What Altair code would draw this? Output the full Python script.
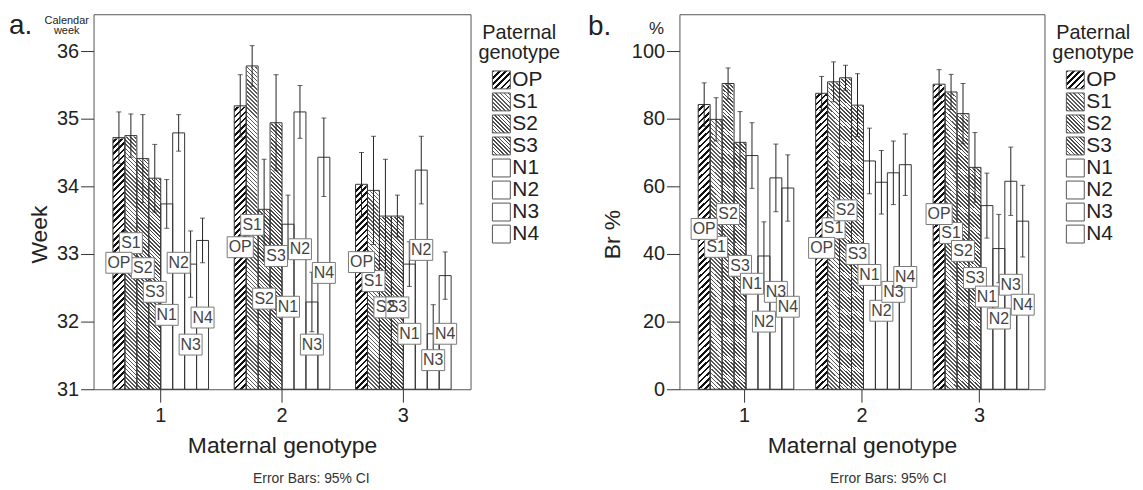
import math
import altair as alt
import pandas as pd

# ---------------- data ----------------
maternal = ["1", "2", "3"]
paternal = ["OP", "S1", "S2", "S3", "N1", "N2", "N3", "N4"]

# panel a: calendar week (rows = maternal genotype 1..3, cols = paternal)
week_mean = [
    [34.72, 34.75, 34.41, 34.12, 33.74, 34.79, 32.85, 33.20],
    [35.19, 35.78, 33.66, 34.94, 33.44, 35.10, 32.29, 34.43],
    [34.03, 33.94, 33.56, 33.56, 32.85, 34.24, 31.82, 32.68],
]
week_ci = [
    [0.38, 0.32, 0.65, 0.50, 0.36, 0.27, 0.49, 0.33],
    [0.46, 0.30, 0.74, 0.71, 0.43, 0.39, 0.44, 0.58],
    [0.47, 0.80, 0.84, 0.31, 0.33, 0.50, 0.43, 0.35],
]
week_label_y = [
    [32.87, 33.16, 32.79, 32.44, 32.10, 32.87, 31.66, 32.06],
    [33.10, 33.43, 32.34, 32.97, 32.22, 33.07, 31.66, 32.72],
    [32.88, 32.60, 32.21, 32.21, 31.82, 33.06, 31.43, 31.82],
]
week_ticks = [31, 32, 33, 34, 35, 36]

# panel b: Br %
br_mean = [
    [84.2, 79.8, 90.4, 73.0, 69.1, 39.4, 62.5, 59.5],
    [87.5, 90.9, 92.1, 84.0, 67.5, 61.2, 64.0, 66.4],
    [90.2, 87.9, 81.5, 65.6, 54.3, 41.6, 61.5, 49.7],
]
br_ci = [
    [6.4, 6.4, 4.6, 9.1, 9.7, 10.1, 10.0, 9.8],
    [5.0, 5.9, 3.7, 9.3, 9.7, 9.4, 9.4, 9.1],
    [4.3, 5.2, 8.9, 10.3, 9.6, 10.1, 10.1, 10.6],
]
br_label_y = [
    [47.4, 42.1, 51.8, 36.5, 31.2, 20.0, 28.8, 24.4],
    [41.8, 47.6, 52.9, 40.0, 33.8, 23.2, 28.8, 33.2],
    [51.8, 46.2, 40.9, 32.9, 27.4, 20.9, 30.9, 25.0],
]
br_ticks = [0, 20, 40, 60, 80, 100]

# ---------------- style ----------------
FONT = "Liberation Sans"
TXT = "#222222"
PAD_IN, PAD_OUT = 0.212, 0.16
H = 377

HATCH_STYLE = {
    "OP": (4.4, 0.42, "#111111", "/"),
    "S1": (2.9, 0.40, "#5a5a5a", "\\"),
    "S2": (2.7, 0.44, "#4a4a4a", "\\"),
    "S3": (2.7, 0.44, "#4a4a4a", "\\"),
}
HATCHED = ["OP", "S1", "S2", "S3"]


def hatch(w, h, period, frac, color, direction, bg="#ffffff"):
    """Striped linear gradient giving 45-degree hatching in a w x h box."""
    L = (w * w + h * h) / (w + h)
    n = (w + h) / (period * math.sqrt(2))
    stops = []
    k = 0
    while k < n:
        a = k / n
        b = min((k + frac) / n, 1.0)
        c = min((k + 1) / n, 1.0)
        stops += [
            {"offset": round(a, 5), "color": color},
            {"offset": round(b, 5), "color": color},
            {"offset": round(b, 5), "color": bg},
            {"offset": round(c, 5), "color": bg},
        ]
        k += 1
    if direction == "/":
        pos = {"x1": 0, "y1": 0, "x2": round(w / L, 6), "y2": round(h / L, 6)}
    else:
        pos = {"x1": 0, "y1": 1, "x2": round(w / L, 6), "y2": round(1 - h / L, 6)}
    return dict(gradient="linear", stops=stops, **pos)


def note(text, x, y, size, align="center", color=TXT):
    return alt.Chart(pd.DataFrame({"t": [text]})).mark_text(
        fontSize=size, align=align, baseline="alphabetic", color=color, font=FONT
    ).encode(x=alt.value(x), y=alt.value(y), text="t:N")


def build(means, cis, lys, ymin, ymax, ticks, W, ytitle, ytitle_x, notes):
    rows = []
    for i, m in enumerate(maternal):
        for j, p in enumerate(paternal):
            rows.append({
                "Maternal": m, "Paternal": p, "val": means[i][j],
                "lo": round(means[i][j] - cis[i][j], 3),
                "hi": round(means[i][j] + cis[i][j], 3),
                "ly": lys[i][j],
            })
    df = pd.DataFrame(rows)

    step = W / (len(maternal) - PAD_IN + 2 * PAD_OUT)
    bar_w = step * (1 - PAD_IN) / len(paternal)
    top = ymax - 2.5 * (ymax - ymin) / H
    grads = {p: hatch(bar_w, H - 2.5, *HATCH_STYLE[p]) for p in HATCHED}

    yscale = alt.Scale(domain=[ymin, ymax], nice=False, zero=False)
    yaxis = alt.Axis(
        title=ytitle, values=ticks, format="d", grid=False, domain=False,
        tickSize=13, tickColor="#333333", labelPadding=2, labelFontSize=20,
        labelColor=TXT, titleFontSize=23, titleFontWeight="normal", titleColor=TXT,
        titleAngle=270, titleX=ytitle_x, titleY=221, titleAlign="center",
        titleBaseline="alphabetic",
    )
    xaxis = alt.Axis(
        title="Maternal genotype", labelAngle=0, domain=False, grid=False,
        tickSize=13, tickColor="#333333", labelPadding=3, labelFontSize=20,
        labelColor=TXT, titleFontSize=23, titleFontWeight="normal", titleColor=TXT,
        titleY=64, titleBaseline="alphabetic",
    )
    xenc = alt.X("Maternal:N", sort=maternal, axis=xaxis,
                 scale=alt.Scale(paddingInner=PAD_IN, paddingOuter=PAD_OUT))
    xoff = alt.XOffset("Paternal:N",
                       scale=alt.Scale(domain=paternal, paddingInner=0, paddingOuter=0))
    base = alt.Chart(df).encode(x=xenc, xOffset=xoff)

    def Y(f):
        return alt.Y(f, type="quantitative", scale=yscale, axis=yaxis)

    def YD(v):
        return alt.YDatum(v, type="quantitative", scale=yscale, axis=yaxis)

    layers = []
    for p in HATCHED:
        layers.append(
            base.transform_filter(alt.datum.Paternal == p)
            .mark_bar(fill=grads[p], strokeWidth=0)
            .encode(y=YD(top), y2=alt.Y2Datum(ymin))
        )
    # white cover above each hatched bar (keeps hatch angle identical for all bars)
    layers.append(
        base.transform_filter(alt.FieldOneOfPredicate(field="Paternal", oneOf=HATCHED))
        .mark_bar(fill="#ffffff", stroke="#ffffff", strokeWidth=1.6)
        .encode(y=Y("val"), y2=alt.Y2Datum(top))
    )
    layers.append(
        base.mark_bar(fill="transparent", stroke="#333333", strokeWidth=1)
        .encode(y=Y("val"), y2=alt.Y2Datum(ymin))
    )
    layers.append(base.mark_rule(color="#222222", strokeWidth=1).encode(y=Y("lo"), y2="hi"))
    layers.append(base.mark_tick(color="#222222", size=5, thickness=1).encode(y=Y("hi")))
    layers.append(base.mark_tick(color="#222222", size=5, thickness=1).encode(y=Y("lo")))
    layers.append(
        base.transform_filter(alt.datum.Paternal != "OP")
        .mark_point(shape="M-1.1,-1H1.1V1H-1.1Z", size=441, filled=True, fill="#ffffff",
                    stroke="#7a7a7a", strokeWidth=1, opacity=1)
        .encode(y=Y("ly"))
    )
    layers.append(
        base.transform_filter(alt.datum.Paternal == "OP")
        .mark_point(shape="M-1.25,-1H1.25V1H-1.25Z", size=441, filled=True, fill="#ffffff",
                    stroke="#7a7a7a", strokeWidth=1, opacity=1)
        .encode(y=Y("ly"))
    )
    layers.append(
        base.mark_text(fontSize=16, color="#444444", align="center", baseline="middle", font=FONT)
        .encode(y=Y("ly"), text="Paternal:N")
    )
    layers += notes
    return alt.layer(*layers).properties(width=W, height=H)


def legend_chart(Wl):
    df = pd.DataFrame({"Paternal": paternal})
    yenc = alt.Y("Paternal:N", axis=None,
                 scale=alt.Scale(type="point", domain=paternal, range=[66, 221], padding=0))
    base = alt.Chart(df).encode(y=yenc)
    layers = []
    for p in paternal:
        fill = hatch(18, 18, *HATCH_STYLE[p]) if p in HATCHED else "#ffffff"
        layers.append(
            base.transform_filter(alt.datum.Paternal == p)
            .mark_point(shape="square", size=324, filled=True, fill=fill,
                        stroke="#555555", strokeWidth=1, opacity=1)
            .encode(x=alt.value(24))
        )
    layers.append(
        base.mark_text(align="left", baseline="middle", fontSize=21, color=TXT, font=FONT)
        .encode(x=alt.value(35), text="Paternal:N")
    )
    layers.append(note("Paternal", 42, 25, 20))
    layers.append(note("genotype", 42, 45, 20))
    return alt.layer(*layers).properties(
        width=Wl, height=H, view=alt.ViewBackground(stroke="transparent")
    )


WA, WB = 379, 367
panel_a = build(
    week_mean, week_ci, week_label_y, 31, 31 + H / 68.0, week_ticks, WA, "Week", -47,
    [note("a.", -85, 20, 28, align="left"),
     note("Calendar", -27, 10, 11), note("week", -27, 20, 11),
     note("Error Bars: 95% CI", 219, 471, 14, color="#333333")],
)
panel_b = build(
    br_mean, br_ci, br_label_y, 0, H / 3.4, br_ticks, WB, "Br %", -60,
    [note("b.", -92, 21, 28, align="left"), note("%", -23, 20, 17),
     note("Error Bars: 95% CI", 210, 471, 14, color="#333333")],
)

chart = alt.hconcat(
    panel_a, legend_chart(196), panel_b, legend_chart(80), spacing=7, bounds="flush"
).properties(
    padding={"left": 0, "top": 2, "right": 0, "bottom": 0}
).configure(font=FONT).configure_view(stroke="#555555", strokeWidth=1)

chart.save("out.html", embed_options={"renderer": "svg", "actions": False})
